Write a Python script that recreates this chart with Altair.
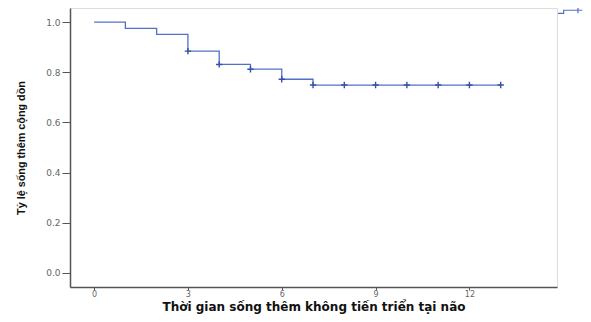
import altair as alt
import pandas as pd

# Kaplan-Meier step curve
step_time = [0, 1, 2, 3, 4, 5, 6, 7, 13]
step_surv = [1.0, 0.975, 0.951, 0.884, 0.831, 0.812, 0.772, 0.749, 0.749]

# censored observations
cens_time = [3, 4, 5, 6, 7, 8, 9, 10, 11, 12, 13]
cens_surv = [0.884, 0.831, 0.812, 0.772, 0.749, 0.749, 0.749, 0.749, 0.749, 0.749, 0.749]

x_ticks = [0, 3, 6, 9, 12]
y_ticks = [0.0, 0.2, 0.4, 0.6, 0.8, 1.0]

x_title = "Thời gian sống thêm không tiến triển tại não"
y_title = "Tỷ lệ sống thêm cộng dồn"

step_df = pd.DataFrame({"t": step_time, "s": step_surv, "g": ["KM"] * len(step_time)})
cens_df = pd.DataFrame({"t": cens_time, "s": cens_surv})

LINE = "#5470c6"
CENS = "#3450a8"

xs = alt.Scale(domain=[-0.77, 14.8], nice=False, zero=False)
ys = alt.Scale(domain=[-0.056, 1.056], nice=False, zero=False)

x_axis = alt.Axis(values=x_ticks, title=x_title, grid=False, tickSize=3, labelPadding=0,
                  labelFont="DejaVu Sans", labelFontSize=8, labelColor="#666666",
                  tickColor="#555555", domainColor="#555555", domainWidth=1.5,
                  titleFont="DejaVu Sans", titleFontSize=12, titleFontWeight="bold",
                  titleColor="#111111", titleBaseline="alphabetic", titleY=23.5)
y_axis = alt.Axis(values=y_ticks, format=".1f", title=y_title, grid=False, tickSize=8,
                  labelPadding=2, labelFont="DejaVu Sans", labelFontSize=9,
                  labelColor="#666666", tickColor="#555555", domainColor="#555555",
                  domainWidth=1.5, titleFont="Liberation Sans", titleFontSize=10.8,
                  titleFontWeight="bold", titleColor="#111111", titlePadding=19)

legend_path = "M-1,0.15H-0.55V-0.1H0.95M0.6,-0.35V0.15M0.4,-0.1H0.8"

line = alt.Chart(step_df).mark_line(interpolate="step-after", strokeWidth=1.3).encode(
    x=alt.X("t:Q", scale=xs, axis=x_axis),
    y=alt.Y("s:Q", scale=ys, axis=y_axis),
    color=alt.Color("g:N", scale=alt.Scale(domain=["KM"], range=[LINE]),
                    legend=alt.Legend(orient="none", legendX=487, legendY=-10, title=None,
                                      symbolType=legend_path, symbolSize=620,
                                      symbolStrokeWidth=1.2, labelExpr="''",
                                      padding=0, symbolOffset=0))
)

cens = alt.Chart(cens_df).mark_point(shape="M-1,0H1M0,-1V1", size=40, filled=False,
                                     strokeWidth=1.4, color=CENS, opacity=1).encode(
    x=alt.X("t:Q", scale=xs),
    y=alt.Y("s:Q", scale=ys),
)

chart = (line + cens).properties(
    width=487, height=279,
    autosize=alt.AutoSizeParams(type="none"),
    padding={"left": 62, "top": 0, "right": 26, "bottom": 27},
).configure_view(fill="#eeeeee", stroke="#666666", strokeWidth=1.5
).configure(background="white")

chart.save("out.html", embed_options={"renderer": "svg", "actions": False})
